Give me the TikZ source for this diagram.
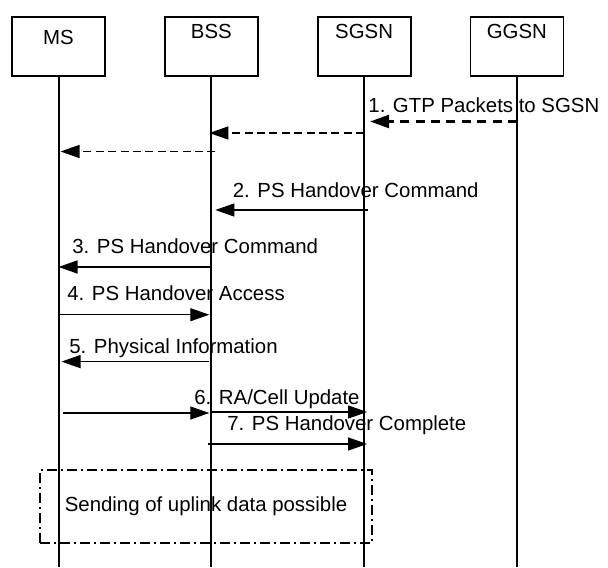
\documentclass[tikz,border=0pt]{standalone}
\usepackage{fontspec}
\setmainfont{Liberation Sans}
\usetikzlibrary{positioning,calc,arrows.meta}

\begin{document}
\begin{tikzpicture}[x=0.5pt, y=-0.5pt, node distance=76.4pt,
    every node/.style={font=\fontsize{10.2pt}{12pt}\selectfont, inner sep=0pt},
    entity/.style={draw, rectangle, line width=0.9pt, minimum width=46.5pt, minimum height=29.5pt, text depth=15.5pt},
    life/.style={line width=1pt},
    msg/.style={-{Triangle[length=9.5pt,width=6.5pt]}, line width=0.65pt},
    fwd/.style={msg, dashed, dash pattern=on 4pt off 2.2pt},
    gtp/.style={msg, line width=1.3pt, dash pattern=on 4.5pt off 3.2pt},
    lbl/.style={anchor=base west},
    area/.style={draw, line width=0.7pt, dash pattern=on 5pt off 2pt on 1pt off 2pt, minimum width=166pt, minimum height=36.5pt}]
    \useasboundingbox (0,0) rectangle (608,567);

    \node [entity, text depth=9.5pt] (ms) at (58.5,46.5) {MS};
    \node [entity, right of=ms] (bss) {BSS};
    \node [entity, right of=bss] (sgsn) {SGSN};
    \node [entity, right of=sgsn] (ggsn) {GGSN};

    % lifelines
    \foreach \n in {ms,bss,sgsn,ggsn} {
        \coordinate (\n-end) at (\n |- 0,567);
        \draw [life] (\n.south) -- (\n-end);
    }

    % downlink packets
    \draw [gtp] (ggsn |- 0,121.5) -- ($(sgsn |- 0,121.5)+(6,0)$);
    \node [lbl] (m1) at (368,112) {1. GTP Packets to SGSN};
    \draw [fwd] (sgsn |- 0,133) -- ($(bss |- 0,133)+(-2,0)$);
    \draw [fwd] ($(bss |- 0,151.5)+(4,0)$) -- ($(ms |- 0,151.5)+(2,0)$);

    % handover signalling
    \draw [msg] ($(sgsn |- 0,210)+(4,0)$) -- ($(bss |- 0,210)+(4,0)$);
    \node [lbl] (m2) at (232.5,197) {2. PS Handover Command};
    \draw [msg] (bss |- 0,267) -- (ms |- 0,267);
    \node [lbl] (m3) at (72,253) {3. PS Handover Command};
    \draw [msg] (ms |- 0,314.7) -- ($(bss |- 0,314.7)+(-2,0)$);
    \node [lbl] (m4) at (67,300) {4. PS Handover Access};
    \draw [msg] ($(bss |- 0,361.6)+(-2,0)$) -- ($(ms |- 0,361.6)+(3,0)$);
    \node [lbl] (m5) at (69,353.5) {5. Physical Information};
    \draw [msg] ($(ms |- 0,413)+(4,0)$) -- ($(bss |- 0,413)+(-2,0)$);
    \draw [msg] (bss |- 0,412) -- ($(sgsn |- 0,412)+(3,0)$);
    \node [lbl] (m6) at (194,404) {6. RA/Cell Update};
    \draw [msg] ($(bss |- 0,444)+(-3,0)$) -- ($(sgsn |- 0,444)+(3,0)$);
    \node [lbl] (m7) at (227,430.5) {7. PS Handover Complete};

    \node [area] (uplink) at (206,506.5) {Sending of uplink data possible};
\end{tikzpicture}
\end{document}
